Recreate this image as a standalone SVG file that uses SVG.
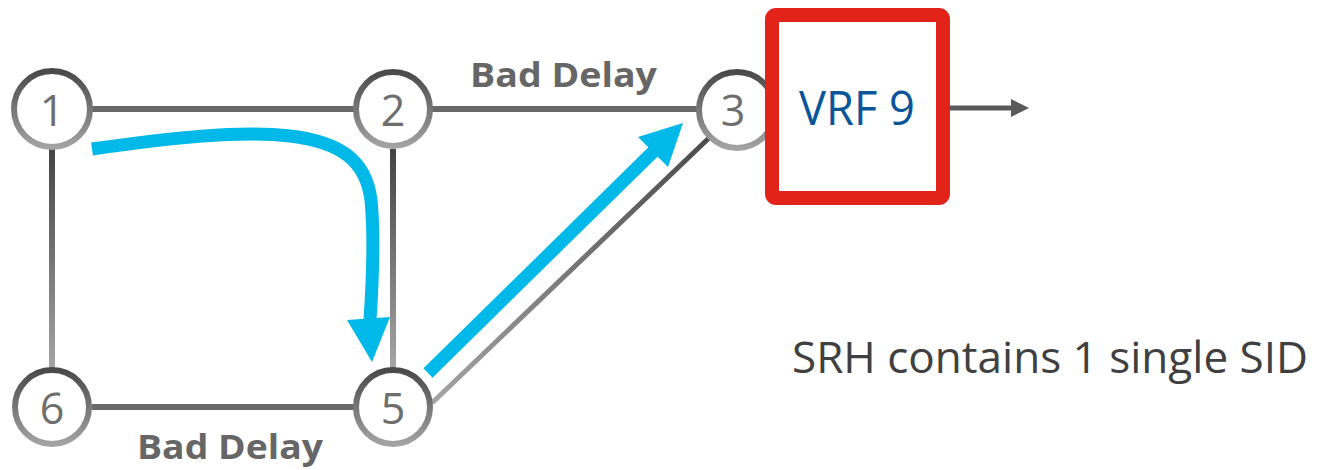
<svg xmlns="http://www.w3.org/2000/svg" width="1325" height="470" viewBox="0 0 1325 470">
<style>
.node{fill:#fff;stroke:url(#ng);stroke-width:6}
.num{font-family:"Open Sans","Liberation Sans",sans-serif;font-size:43px;fill:#6e6e6e;text-anchor:middle}
.hedge{stroke:#686868;stroke-width:6;fill:none}
.lbl{font-family:"Open Sans","Liberation Sans",sans-serif;font-weight:bold;font-size:34px;fill:#666}
.flow{fill:none;stroke:#00b9e8;stroke-width:13}
.head{fill:#00b9e8}
</style>
<defs>
<linearGradient id="ng" x1="0" y1="0" x2="0" y2="1">
<stop offset="0" stop-color="#4a4a4a"/><stop offset="1" stop-color="#a3a3a3"/>
</linearGradient>
<linearGradient id="vg" gradientUnits="userSpaceOnUse" x1="0" y1="150" x2="0" y2="368">
<stop offset="0" stop-color="#454545"/><stop offset="1" stop-color="#a5a5a5"/>
</linearGradient>
<linearGradient id="dg" gradientUnits="userSpaceOnUse" x1="710" y1="137" x2="432" y2="403">
<stop offset="0" stop-color="#4a4a4a"/><stop offset="1" stop-color="#a5a5a5"/>
</linearGradient>
</defs>
<g id="connectors">
<line class="hedge" x1="92" y1="109" x2="355" y2="109"/>
<line class="hedge" x1="432" y1="109" x2="698" y2="109"/>
<line class="hedge" x1="92" y1="407" x2="355" y2="407"/>
<path d="M52,149 L52,368" stroke="url(#vg)" stroke-width="6" fill="none"/>
<path d="M393,149 L393,368" stroke="url(#vg)" stroke-width="6" fill="none"/>
<path d="M432,403 L710,137" stroke="url(#dg)" stroke-width="5" fill="none"/>
<line x1="950" y1="108" x2="1012" y2="108" stroke="#5a5a5a" stroke-width="5"/>
<polygon points="1011,99 1029,108 1011,117" fill="#5a5a5a"/>
</g>
<g id="label-top"><text class="lbl" x="470" y="87" textLength="187" lengthAdjust="spacingAndGlyphs">Bad Delay</text></g>
<g id="label-bottom"><text class="lbl" x="137" y="459" textLength="186" lengthAdjust="spacingAndGlyphs">Bad Delay</text></g>
<g id="node1"><circle class="node" cx="52" cy="109" r="38"/><text class="num" x="52" y="126">1</text></g>
<g id="node2"><circle class="node" cx="393" cy="109" r="37"/><text class="num" x="393" y="126">2</text></g>
<g id="node3"><circle class="node" cx="737" cy="110" r="38"/><text class="num" x="733" y="126">3</text></g>
<g id="node6"><circle class="node" cx="52" cy="407" r="37"/><text class="num" x="52" y="424">6</text></g>
<g id="node5"><circle class="node" cx="393" cy="407" r="37"/><text class="num" x="393" y="424">5</text></g>
<g id="vrf9">
<rect x="772" y="15" width="171" height="183" rx="4" fill="#fff" stroke="#e2231a" stroke-width="14"/>
<text x="857" y="125" font-family="'Open Sans','Liberation Sans',sans-serif" font-size="48" fill="#0b5599" text-anchor="middle" textLength="116" lengthAdjust="spacingAndGlyphs">VRF 9</text>
</g>
<g id="flow1">
<path class="flow" d="M92,149 C170,138 240,130 290,136 C340,142 366,160 371,200 C375,240 372,290 370,320"/>
<polygon class="head" points="347,320 390,317 372,362"/>
</g>
<g id="flow2">
<path class="flow" d="M428,373 L656,149"/>
<polygon class="head" points="638,137 683,123 668,167"/>
</g>
<g id="note"><text x="792" y="373" font-family="'Open Sans','Liberation Sans',sans-serif" font-size="44" fill="#404040" textLength="516" lengthAdjust="spacingAndGlyphs">SRH contains 1 single SID</text></g>
</svg>
